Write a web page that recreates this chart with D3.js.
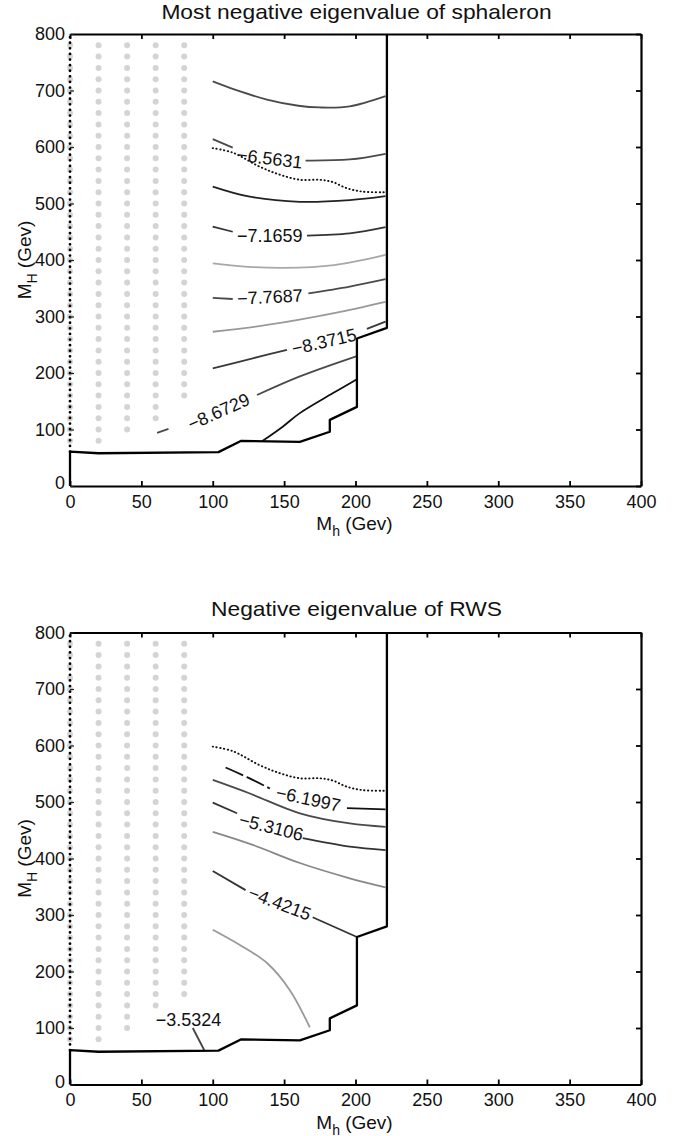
<!DOCTYPE html>
<html><head><meta charset="utf-8">
<script src="https://cdn.jsdelivr.net/npm/d3@7"></script>
<style>body{margin:0;background:#fff}svg{display:block;font-family:"Liberation Sans",Arial,Helvetica,sans-serif}</style>
</head><body>
<svg id="c" width="689" height="1136"></svg>
<script>
// ---- data ----
const xTicks = [0,50,100,150,200,250,300,350,400];
const yTicks = [0,100,200,300,400,500,600,700,800];
const gridCols = [0,20,40,60,80];
const sphGridBottoms = [80,80,100,120,160];
const rwsGridBottoms = [80,80,100,140,160];
const gridTop = 780, gridStep = 20;

const boundary = [[0,0],[0,61],[20,58],[104,60],[120,80],[161,78],[182,96],[182,117],[201,140],[201,261],[222,280],[222,800]];
const leftEdge = [[0,61],[0,800]];
const dottedCurve = [[100,598],[114,590],[133,565],[147,551],[161,542],[175,542],[184,538],[194,527],[205,521],[221,520]];

const sphLevels = [-6.2617,-6.5631,-6.8645,-7.1659,-7.4673,-7.7687,-8.0701,-8.3715,-8.6729,-8.9743];
const sphContours = [
  [[[100,716],[115,702],[138,684],[160,673],[175,670],[196,672],[221,690]]],
  [[[100,614],[114,599]], [[165,576],[196,578],[221,588]]],
  [[[100,530],[126,512],[161,503],[196,506],[221,513]]],
  [[[100,459],[114,450]], [[166,443],[196,447],[221,458]]],
  [[[100,394],[125,388],[150,386],[185,391],[221,409]]],
  [[[100,333],[114,331]], [[167,341],[196,353],[221,366]]],
  [[[100,273],[138,285],[185,306],[221,326]]],
  [[[100,208],[128,226],[152,241]], [[208,278],[221,291]]],
  [[[61,94],[69,101]], [[131,161],[161,194],[201,230]]],
  [[[135,80],[149,105],[161,129],[184,164],[201,189]]]
];
const sphLabels = [
  {t:"\u22126.5631", x:140, y:580, a:7},
  {t:"\u22127.1659", x:140, y:443, a:0},
  {t:"\u22127.7687", x:140, y:335, a:-3},
  {t:"\u22128.3715", x:178, y:256, a:-13},
  {t:"\u22128.6729", x:104, y:132, a:-24}
];

const rwsLevels = [-6.1997,-5.7552,-5.3106,-4.8661,-4.4215,-3.9770,-3.5324];
const rwsContours = [
  [[[109,561],[124,544],[140,524]], [[194,489],[221,487]]],
  [[[100,539],[126,515],[161,480],[196,462],[221,456]]],
  [[[100,499],[117,480]], [[163,436],[196,421],[221,415]]],
  [[[100,447],[128,424],[161,392],[196,365],[221,349]]],
  [[[100,378],[123,344]], [[170,296],[201,261]]],
  [[[100,274],[119,247],[138,215],[154,167],[168,101]]],
  [[[86,100],[94,61]]]
];
const rwsLabels = [
  {t:"\u22126.1997", x:167, y:506, a:12},
  {t:"\u22125.3106", x:141, y:456, a:14},
  {t:"\u22124.4215", x:147, y:321, a:21},
  {t:"\u22123.5324", x:83, y:115, a:0}
];

// ---- styles ----
const sphShades = ["#4a4a4a","#4a4a4a","#222","#333","#a8a8a8","#4a4a4a","#999","#3a3a3a","#4a4a4a","#111"];
const rwsShades = ["#111","#4a4a4a","#333","#888","#333","#999","#444"];
const rwsDash = [true,false,false,false,false,false,false];

const svg = d3.select("#c");
const x = d3.scaleLinear().domain([0,400]).range([70,641]);

function panel(yRange, title, titleY, gridBottoms, contours, shades, dashes, labels){
  const y = d3.scaleLinear().domain([0,800]).range(yRange);
  const g = svg.append("g");
  const line = d3.line().x(d=>x(d[0])).y(d=>y(d[1]));
  const smooth = d3.line().x(d=>x(d[0])).y(d=>y(d[1])).curve(d3.curveCatmullRom.alpha(0.5));

  // grey grid dots
  gridCols.forEach((cx,i)=>{
    const rows = d3.range(gridBottoms[i], gridTop+1, gridStep);
    g.selectAll(null).data(rows).join("circle")
      .attr("cx", x(cx)).attr("cy", d=>y(d)).attr("r",3).attr("fill","#d4d4d4");
  });
  // black dotted left edge
  g.append("path").attr("d", line(leftEdge)).attr("fill","none").attr("stroke","#000")
    .attr("stroke-width",2.8).attr("stroke-linecap","round").attr("stroke-dasharray","0,5.6");

  // axes
  const bottom = g.append("g").attr("transform",`translate(0,${yRange[0]})`)
    .call(d3.axisBottom(x).tickValues(xTicks).tickSizeInner(-5).tickSizeOuter(0).tickPadding(9).tickFormat(d3.format("d")));
  const top = g.append("g").attr("transform",`translate(0,${yRange[1]})`)
    .call(d3.axisTop(x).tickValues(xTicks).tickSizeInner(-5).tickSizeOuter(0).tickFormat(""));
  const left = g.append("g").attr("transform",`translate(${x(0)},0)`)
    .call(d3.axisLeft(y).tickValues(yTicks).tickSizeInner(-4).tickSizeOuter(0).tickPadding(5).tickFormat(d3.format("d")));
  const right = g.append("g").attr("transform",`translate(${x(400)},0)`)
    .call(d3.axisRight(y).tickValues(yTicks).tickSizeInner(-5).tickSizeOuter(0).tickFormat(""));
  left.select(".domain").remove();
  left.selectAll(".tick line").attr("stroke","#222").attr("stroke-width",1.2);
  [bottom,top,right].forEach(a=>{
    a.select(".domain").attr("stroke","#000").attr("stroke-width",2.2);
    a.selectAll(".tick line").attr("stroke","#000").attr("stroke-width",1.8);
  });
  [bottom,left].forEach(a=>a.selectAll("text").attr("font-size",18).attr("fill","#111")
    .attr("font-family",'"Liberation Sans",Arial,sans-serif'));
  left.selectAll(".tick text").filter(d=>d===0).attr("dy","0.15em");

  // dotted curve
  g.append("path").attr("d", smooth(dottedCurve)).attr("fill","none").attr("stroke","#111")
    .attr("stroke-width",1.9).attr("stroke-linecap","round").attr("stroke-dasharray","0.4,3.4");

  // contours
  contours.forEach((segs,i)=>{
    segs.forEach((s,j)=>{
      const p = g.append("path").attr("d", smooth(s)).attr("fill","none")
        .attr("stroke", shades[i]).attr("stroke-width",1.8);
      if(dashes && dashes[i] && j===0) p.attr("stroke-dasharray","19,4");
    });
  });

  // boundary
  g.append("path").attr("d", line(boundary)).attr("fill","none").attr("stroke","#000")
    .attr("stroke-width",2.3).attr("stroke-linejoin","round");

  // contour labels
  labels.forEach(l=>{
    g.append("text").attr("transform",`translate(${x(l.x)},${y(l.y)}) rotate(${l.a})`)
      .attr("text-anchor","middle").attr("dy","0.36em").attr("font-size",18).attr("fill","#111")
      .text(l.t);
  });

  // title
  g.append("text").attr("transform",`translate(${(x(0)+x(400))/2+1},${titleY}) scale(1.14,1)`)
    .attr("text-anchor","middle").attr("font-size",20).attr("fill","#111").text(title);

  // x label
  const xl = g.append("text").attr("x",(x(0)+x(400))/2-1).attr("y",yRange[0]+44)
    .attr("text-anchor","middle").attr("font-size",19).attr("fill","#111");
  xl.append("tspan").text("M");
  xl.append("tspan").attr("font-size",14).attr("dy",6).text("h");
  xl.append("tspan").attr("dy",-6).text(" (Gev)");

  // y label
  const ym = (yRange[0]+yRange[1])/2;
  const yl = g.append("text").attr("transform",`translate(31,${ym}) rotate(-90)`)
    .attr("text-anchor","middle").attr("font-size",19).attr("fill","#111");
  yl.append("tspan").text("M");
  yl.append("tspan").attr("font-size",14).attr("dy",6).text("H");
  yl.append("tspan").attr("dy",-6).text(" (Gev)");
}

panel([486,34], "Most negative eigenvalue of sphaleron", 19, sphGridBottoms, sphContours, sphShades, null, sphLabels);
panel([1084.5,632.5], "Negative eigenvalue of RWS", 616, rwsGridBottoms, rwsContours, rwsShades, rwsDash, rwsLabels);
</script>
</body></html>
